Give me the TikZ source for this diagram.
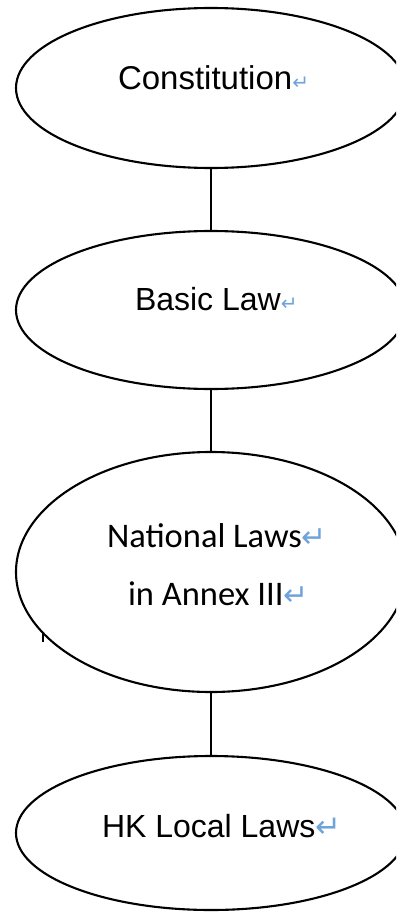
\documentclass[tikz,border=0pt]{standalone}
\usepackage{fontspec}
\setmainfont{Liberation Sans}
\newfontfamily\calfont{Carlito}
\newfontfamily\djfont{DejaVu Sans}
\usetikzlibrary{shapes.geometric}
\definecolor{retblue}{HTML}{6FA3DA}
\newcommand{\retmark}[1]{\textcolor{retblue}{\djfont\fontsize{#1}{#1}\selectfont ↵}}
\begin{document}
\begin{tikzpicture}[x=1pt,y=-1pt,
  oval/.style={draw=black, line width=2.1pt, shape=ellipse, inner sep=0pt, outer sep=0pt},
  lbl/.style={anchor=base west, inner sep=0pt, outer sep=0pt},
  link/.style={draw=black, line width=2pt}]
\useasboundingbox (0,0) rectangle (396,912);
\clip (0,0) rectangle (396,912);
\fill[white] (0,0) rectangle (396,912);
\node[oval, minimum width=390pt, minimum height=160pt] (e1) at (211,88) {};
\node[oval, minimum width=390pt, minimum height=158pt] (e2) at (211,310) {};
\node[oval, minimum width=390pt, minimum height=240pt] (e3) at (211,572) {};
\node[oval, minimum width=390pt, minimum height=154pt] (e4) at (211,833) {};
\draw[link] (e1.south) -- (e2.north);
\draw[link] (e2.south) -- (e3.north);
\draw[link] (e3.south) -- (e4.north);
\node[lbl] (t1) at (118,90) {\fontsize{33}{33}\selectfont Constitution\retmark{20}};
\node[lbl] (t2) at (135,310) {\fontsize{32}{32}\selectfont Basic Law\retmark{20}};
\node[lbl] (t3a) at (107,547) {\calfont\fontsize{34.5}{34.5}\selectfont National Laws\retmark{30}};
\node[lbl] (t3b) at (128,605) {\calfont\fontsize{34.5}{34.5}\selectfont in Annex III\retmark{30}};
\node[lbl] (t4) at (102,837) {\fontsize{32}{32}\selectfont HK Local Laws\retmark{31}};
\coordinate (k1) at (43,632);
\coordinate (k2) at (43,642);
\draw[line width=1.6pt] (k1) -- (k2);
\end{tikzpicture}
\end{document}
